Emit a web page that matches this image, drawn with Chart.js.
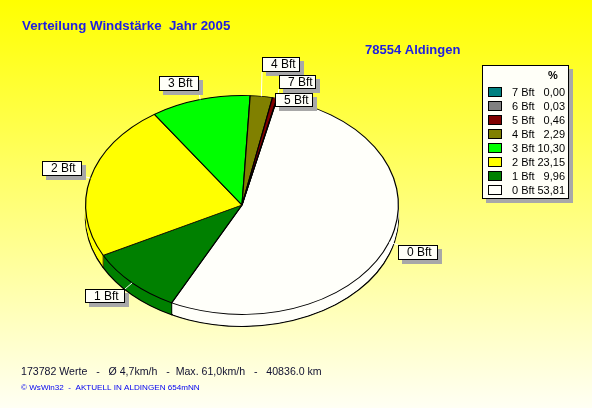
<!DOCTYPE html>
<html><head><meta charset="utf-8">
<style>html,body{margin:0;padding:0;background:#fff}canvas{display:block}</style>
<script src="https://cdn.jsdelivr.net/npm/chart.js@4"></script>
</head><body><canvas id="c" width="592" height="408"></canvas>
<script>
const categories = ['0 Bft','1 Bft','2 Bft','3 Bft','4 Bft','5 Bft','6 Bft','7 Bft'];
const percent = [53.81,9.96,23.15,10.30,2.29,0.46,0.03,0.00];
const colors = ['#fffffa','#008000','#ffff00','#00ff00','#808000','#800000','#808080','#008080'];
const titleText = 'Verteilung Windstärke  Jahr 2005';
const placeText = '78554 Aldingen';
const statsText = '173782 Werte   -   Ø 4,7km/h   -  Max. 61,0km/h   -   40836.0 km';
const creditText = '© WsWin32  -  AKTUELL IN ALDINGEN 654mNN';
const legendUnit = '%';

const SQUASH = 0.70, DEPTH = 12;
const calloutBoxes = {
  '0 Bft':[398,245,40,15], '1 Bft':[85,289,40,14], '2 Bft':[42,161,40,15],
  '3 Bft':[159,76,40,15], '4 Bft':[262,57,38,15], '5 Bft':[275,93,38,14], '7 Bft':[279,75,37,14]
};
const FONT = '"Liberation Sans", Arial, sans-serif';

function withOpts(el, extra, fn){
  const o = el.options;
  el.options = Object.assign(Object.create(o), extra);
  fn(); el.options = o;
}
function box(ctx,x,y,w,h,fill,shadow){
  ctx.fillStyle = '#a8a8a8';
  ctx.fillRect(x+shadow,y+shadow,w,h);
  ctx.fillStyle = fill;
  ctx.fillRect(x,y,w,h);
  ctx.strokeStyle = '#000'; ctx.lineWidth = 1;
  ctx.strokeRect(x+.5,y+.5,w-1,h-1);
}
const pie3d = {
  id:'pie3d',
  beforeDraw(chart){
    const {ctx,width,height} = chart;
    const g = ctx.createLinearGradient(0,0,0,height);
    g.addColorStop(0,'#ffff00'); g.addColorStop(0.5,'#ffff78'); g.addColorStop(1,'#fffff4');
    ctx.fillStyle = g; ctx.fillRect(0,0,width,height);
  },
  beforeDatasetsDraw(chart){
    const {ctx} = chart; const arcs = chart.getDatasetMeta(0).data;
    const cy = arcs[0].y;
    ctx.save();
    ctx.translate(0,cy); ctx.scale(1,SQUASH); ctx.translate(0,-cy);
    ctx.save(); ctx.translate(0,DEPTH/SQUASH);
    arcs.forEach(a=>{ if(a.circumference>0) withOpts(a,{borderWidth:1.6},()=>a.draw(ctx)); });
    ctx.restore();
    for(let d=DEPTH-1;d>=1;d--){
      ctx.save(); ctx.translate(0,d/SQUASH);
      arcs.forEach(a=>{ if(a.circumference>0) withOpts(a,{borderWidth:0},()=>a.draw(ctx)); });
      ctx.restore();
    }
    ctx.strokeStyle='#000'; ctx.lineWidth=1;
    arcs.forEach(a=>{
      const s=Math.sin(a.startAngle), c=Math.cos(a.startAngle);
      if(s<=0) return;
      const x=a.x+a.outerRadius*c, y=a.y+a.outerRadius*s;
      ctx.beginPath(); ctx.moveTo(x,y); ctx.lineTo(x,y+DEPTH/SQUASH); ctx.stroke();
    });
  },
  afterDatasetsDraw(chart){
    const {ctx} = chart; const arcs = chart.getDatasetMeta(0).data;
    ctx.restore();
    ctx.font = '12px '+FONT; ctx.textBaseline='middle'; ctx.textAlign='left';
    categories.forEach((name,i)=>{
      const b = calloutBoxes[name]; if(!b) return;
      const a = arcs[i], m = (a.startAngle+a.endAngle)/2;
      const px = a.x+a.outerRadius*Math.cos(m), py = a.y+a.outerRadius*SQUASH*Math.sin(m);
      const ax = Math.max(b[0],Math.min(b[0]+b[2],px)), ay = Math.max(b[1],Math.min(b[1]+b[3],py));
      ctx.strokeStyle='#fff'; ctx.lineWidth=1;
      ctx.beginPath(); ctx.moveTo(px,py); ctx.lineTo(ax,ay); ctx.stroke();
    });
    categories.forEach(name=>{
      const b = calloutBoxes[name]; if(!b) return;
      box(ctx,b[0],b[1],b[2],b[3],'#fffff8',4);
      ctx.fillStyle='#000';
      ctx.fillText(name,b[0]+9,b[1]+b[3]/2+.5);
    });
    ctx.fillStyle='#2020e0'; ctx.textBaseline='alphabetic';
    ctx.font='bold 13.3px '+FONT;
    ctx.fillText(titleText,22,30);
    ctx.font='bold 13px '+FONT;
    ctx.fillText(placeText,365,54);
    ctx.fillStyle='#101030'; ctx.font='10.6px '+FONT;
    ctx.fillText(statsText,21,375);
    ctx.fillStyle='#0000f0'; ctx.font='8.1px '+FONT;
    ctx.fillText(creditText,21,390);
    box(ctx,482,65,87,134,'#fffff8',4);
    ctx.fillStyle='#000'; ctx.font='bold 11px '+FONT; ctx.textAlign='left';
    ctx.fillText(legendUnit,548,79);
    ctx.font='11px '+FONT;
    for(let k=0;k<categories.length;k++){
      const i=categories.length-1-k, y=87+14*k;
      ctx.fillStyle=colors[i]; ctx.fillRect(488,y,14,10);
      ctx.strokeStyle='#000'; ctx.lineWidth=1; ctx.strokeRect(488.5,y+.5,13,9);
      ctx.fillStyle='#000'; ctx.textAlign='left';
      ctx.fillText(categories[i],512,y+9);
      ctx.textAlign='right';
      ctx.fillText(percent[i].toFixed(2).replace('.',','),565,y+9);
    }
    ctx.textAlign='left';
  }
};
new Chart(document.getElementById('c'),{
  type:'pie',
  data:{labels:categories,datasets:[{data:percent,backgroundColor:colors,borderColor:'#000',borderWidth:1.2,borderAlign:'center'}]},
  options:{
    responsive:false,animation:false,rotation:13,
    layout:{padding:{left:85,right:193,top:48,bottom:46}},
    plugins:{legend:{display:false},tooltip:{enabled:false},title:{display:false}}
  },
  plugins:[pie3d]
});
</script></body></html>
